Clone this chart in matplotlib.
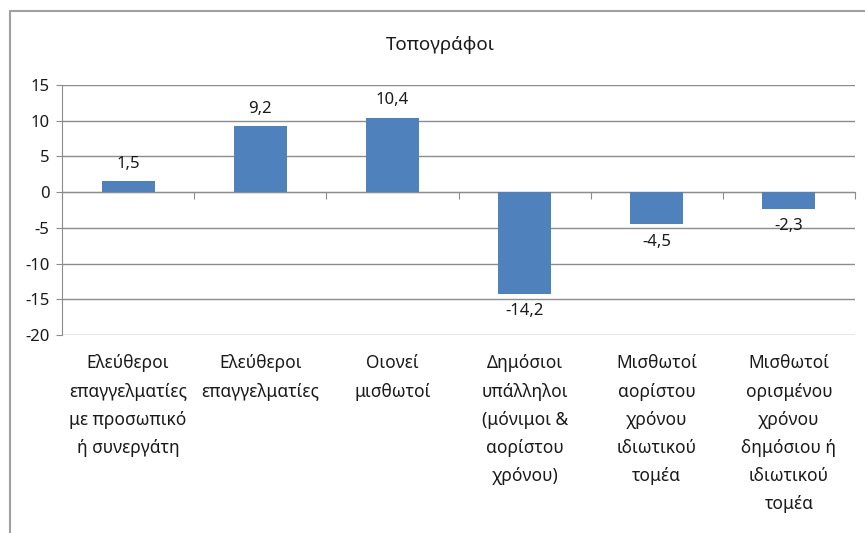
import matplotlib
matplotlib.use("Agg")
import matplotlib.pyplot as plt
from matplotlib.patches import Rectangle

plt.rcParams['font.family'] = ['Noto Sans', 'DejaVu Sans']

title = "Τοπογράφοι"
categories = [
    "Ελεύθεροι\nεπαγγελματίες\nμε προσωπικό\nή συνεργάτη",
    "Ελεύθεροι\nεπαγγελματίες",
    "Οιονεί\nμισθωτοί",
    "Δημόσιοι\nυπάλληλοι\n(μόνιμοι &\nαορίστου\nχρόνου)",
    "Μισθωτοί\nαορίστου\nχρόνου\nιδιωτικού\nτομέα",
    "Μισθωτοί\nορισμένου\nχρόνου\nδημόσιου ή\nιδιωτικού\nτομέα",
]
values = [1.5, 9.2, 10.4, -14.2, -4.5, -2.3]
value_labels = ["1,5", "9,2", "10,4", "-14,2", "-4,5", "-2,3"]
yticks = [-20, -15, -10, -5, 0, 5, 10, 15]

W, H = 865, 533
fig = plt.figure(figsize=(W / 100, H / 100), dpi=100)
fig.patch.set_facecolor("white")

# outer chart frame (left/top visible)
fig.patches.append(Rectangle((10 / W, -0.1), 1.2, 1 - 11 / H + 0.1,
                             transform=fig.transFigure, fill=False,
                             edgecolor="#a0a0a0", linewidth=1.5))

ax = fig.add_axes([62 / W, 1 - 335 / H, (855 - 62) / W, (335 - 85) / H])
x = list(range(len(values)))
ax.bar(x, values, width=0.4, color="#4F81BD", zorder=3)
ax.set_xlim(-0.5, len(values) - 0.5)
ax.set_ylim(-20, 15)
ax.set_yticks(yticks)
ax.set_yticklabels([str(v) for v in yticks], fontsize=12, color="#1a1a1a")
ax.grid(axis="y", color="#8c8c8c", linewidth=1.0, zorder=0)
ax.tick_params(axis="y", length=4, color="#8c8c8c", pad=5)

for s in ["top", "right"]:
    ax.spines[s].set_visible(False)
ax.spines["left"].set_color("#8c8c8c")
ax.spines["bottom"].set_position(("data", 0))
ax.spines["bottom"].set_color("#8c8c8c")
ax.set_xticks([i + 0.5 for i in range(-1, len(values))])
ax.set_xticklabels([])
ax.tick_params(axis="x", length=5, color="#8c8c8c", direction="out")

for xi, v, lab in zip(x, values, value_labels):
    if v >= 0:
        ax.annotate(lab, (xi, v), xytext=(0, 7), textcoords="offset points",
                    ha="center", va="bottom", fontsize=12, color="#1a1a1a")
    else:
        ax.annotate(lab, (xi, v), xytext=(0, -7), textcoords="offset points",
                    ha="center", va="top", fontsize=12, color="#1a1a1a")

for xi, c in zip(x, categories):
    ax.annotate(c, (xi, -20), xytext=(0, -14), textcoords="offset points",
                ha="center", va="top", fontsize=12.5, linespacing=1.72,
                color="#1a1a1a", annotation_clip=False)

fig.text(440 / W, 1 - 45 / H, title, ha="center", va="center", fontsize=13.5,
         color="#1a1a1a")

fig.savefig("out.png", dpi=100)
